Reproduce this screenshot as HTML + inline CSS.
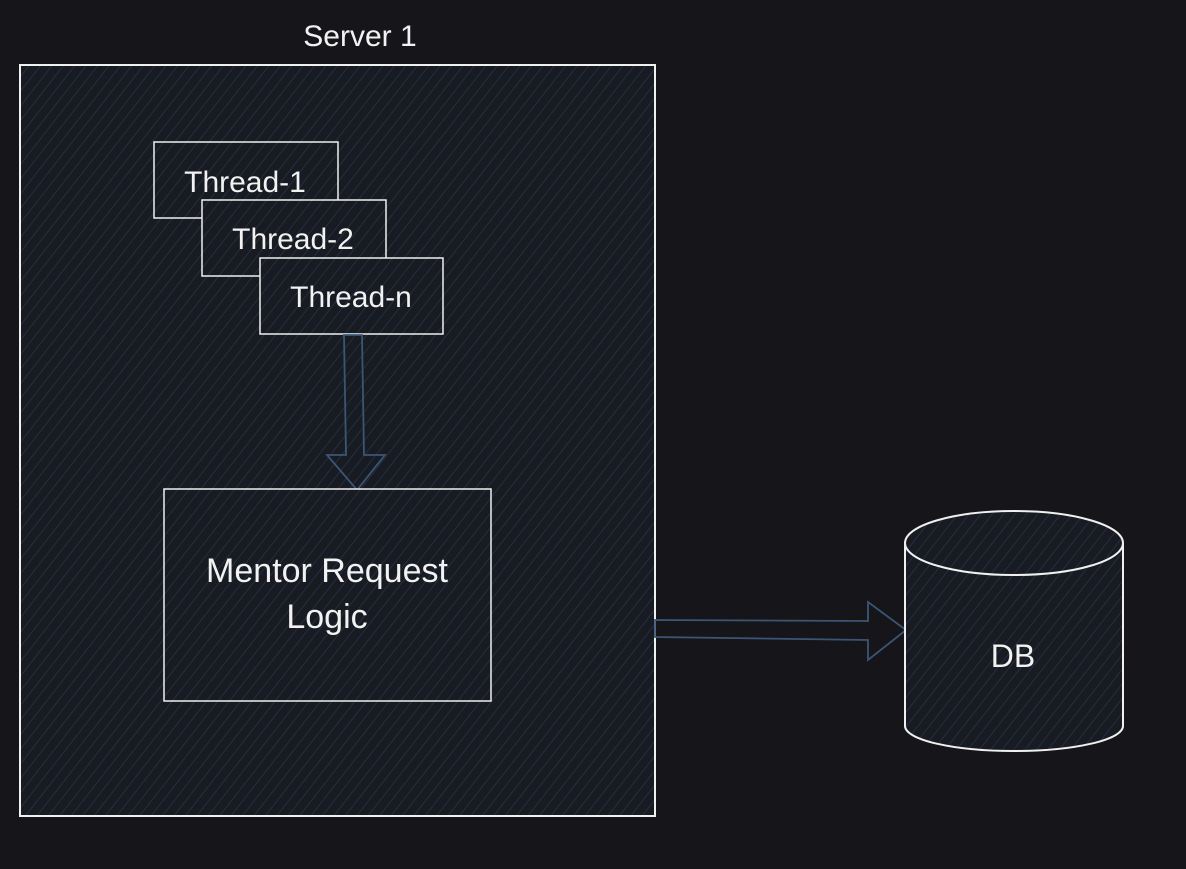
<!DOCTYPE html>
<html><head><meta charset="utf-8"><style>
html,body{margin:0;padding:0;background:#161519;}
body{width:1186px;height:864px;overflow:hidden;}
text{font-family:"Liberation Sans",sans-serif;fill:#f2f2f2;}
</style></head><body>
<svg width="1186" height="864" xmlns="http://www.w3.org/2000/svg">
<defs>
<pattern id="h" width="9" height="9" patternUnits="userSpaceOnUse" patternTransform="rotate(38)">
<rect width="9" height="9" fill="#191b22"/>
<line x1="0" y1="0" x2="0" y2="9" stroke="#263850" stroke-width="1.3"/>
</pattern>
</defs>
<rect x="0" y="0" width="1186" height="864" fill="#161519"/>
<text x="360" y="46" font-size="30" text-anchor="middle">Server 1</text>
<rect x="20" y="65" width="635" height="751" fill="url(#h)" stroke="#f0f0f0" stroke-width="2"/>
<rect x="154" y="142" width="184" height="76" fill="url(#h)" stroke="#f0f0f0" stroke-width="1.5"/>
<text x="245" y="192" font-size="30" text-anchor="middle">Thread-1</text>
<rect x="202" y="200" width="184" height="76" fill="url(#h)" stroke="#f0f0f0" stroke-width="1.5"/>
<text x="293" y="249" font-size="30" text-anchor="middle">Thread-2</text>
<rect x="260" y="258" width="183" height="76" fill="url(#h)" stroke="#f0f0f0" stroke-width="1.5"/>
<text x="351" y="307" font-size="30" text-anchor="middle">Thread-n</text>
<path d="M344 335 L346 455 L327 455 L357 490 L385 455 L364 455 L362 335 Z" fill="none" stroke="#3a5674" stroke-width="1.8"/>
<rect x="164" y="489" width="327" height="212" fill="url(#h)" stroke="#f0f0f0" stroke-width="1.5"/>
<text x="327" y="582" font-size="34" text-anchor="middle">Mentor Request</text>
<text x="327" y="628" font-size="34" text-anchor="middle">Logic</text>
<path d="M655 620 L868 621 L868 602 L906 630 L868 660 L868 640 L655 637 Z" fill="none" stroke="#3a5674" stroke-width="1.8"/>
<path d="M905 543 L905 726 A109 25 0 0 0 1123 726 L1123 543" fill="url(#h)" stroke="#f0f0f0" stroke-width="2"/>
<ellipse cx="1014" cy="543" rx="109" ry="32" fill="url(#h)" stroke="#f0f0f0" stroke-width="2"/>
<text x="1013" y="667" font-size="32" text-anchor="middle">DB</text>
</svg>
</body></html>
